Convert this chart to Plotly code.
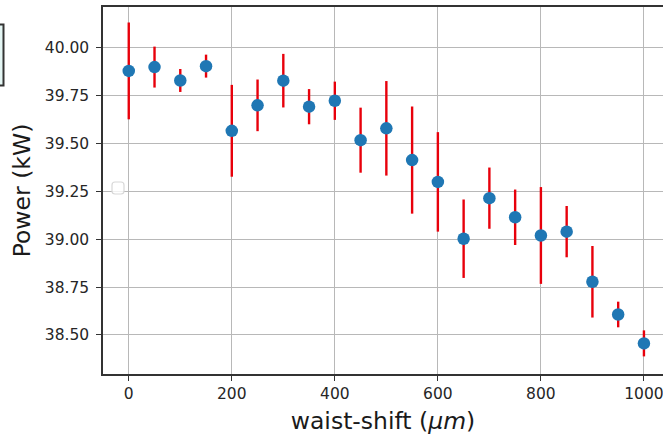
import plotly.graph_objects as go

waist_shift = [0, 50, 100, 150, 200, 250, 300, 350, 400, 450, 500, 550, 600, 650, 700, 750, 800, 850, 900, 950, 1000]
power_kw = [39.88, 39.90, 39.83, 39.905, 39.567, 39.70, 39.829, 39.693, 39.724, 39.518, 39.58, 39.414, 39.30, 39.003,
            39.215, 39.115, 39.02, 39.04, 38.778, 38.607, 38.456]
power_err = [0.253, 0.107, 0.06, 0.06, 0.24, 0.135, 0.14, 0.092, 0.10, 0.17, 0.247, 0.28, 0.26, 0.205,
             0.16, 0.145, 0.253, 0.134, 0.187, 0.067, 0.068]
x_ticks = [0, 200, 400, 600, 800, 1000]
y_ticks = [38.50, 38.75, 39.00, 39.25, 39.50, 39.75, 40.00]

W, H = 663, 435
ML, MT, MB, MR = 103, 7, 61, 0
PW, PH = W - ML - MR, H - MT - MB


def px_x(px):
    return (px - ML) / PW


def px_y(py):
    return 1 - (py - MT) / PH


fig = go.Figure()
fig.add_trace(go.Scatter(
    x=waist_shift, y=power_kw, mode="markers",
    marker=dict(color="#1f77b4", size=12.5),
    error_y=dict(type="data", array=power_err, visible=True, color="#e8000b", thickness=2.4, width=0),
    showlegend=False,
))

shapes = []
# partially visible legend box at far left (outside axes)
shapes.append(dict(type="rect", xref="paper", yref="paper",
                   x0=px_x(-10), x1=px_x(3.5), y0=px_y(85.5), y1=px_y(24.5),
                   line=dict(color="#333333", width=2), fillcolor="#e4f6f4", layer="above"))
# faint empty legend frame inside axes
x0, x1, y0, y1, r = 112, 124, 182, 194, 3
path = (f"M {px_x(x0 + r)} {px_y(y0)} L {px_x(x1 - r)} {px_y(y0)} "
        f"Q {px_x(x1)} {px_y(y0)} {px_x(x1)} {px_y(y0 + r)} L {px_x(x1)} {px_y(y1 - r)} "
        f"Q {px_x(x1)} {px_y(y1)} {px_x(x1 - r)} {px_y(y1)} L {px_x(x0 + r)} {px_y(y1)} "
        f"Q {px_x(x0)} {px_y(y1)} {px_x(x0)} {px_y(y1 - r)} L {px_x(x0)} {px_y(y0 + r)} "
        f"Q {px_x(x0)} {px_y(y0)} {px_x(x0 + r)} {px_y(y0)} Z")
shapes.append(dict(type="path", xref="paper", yref="paper", path=path,
                   line=dict(color="#d8d8d8", width=1.2), fillcolor="rgba(255,255,255,0.8)", layer="above"))

fig.update_layout(
    width=W, height=H,
    margin=dict(l=ML, r=MR, t=MT, b=MB),
    paper_bgcolor="white", plot_bgcolor="white",
    font=dict(family="DejaVu Sans", color="#262626"),
    shapes=shapes,
    xaxis=dict(
        range=[-50, 1037], tickvals=x_ticks, ticktext=[str(v) for v in x_ticks],
        showgrid=True, gridcolor="#b8b8b8", gridwidth=1,
        showline=True, linecolor="#333333", linewidth=1.5, mirror=True,
        ticks="outside", ticklen=5, tickcolor="#333333", tickwidth=1.2,
        tickfont=dict(size=15.5, color="#262626"), zeroline=False,
        ticklabeloverflow="allow",
        title=dict(text="waist-shift (<i>μm</i>)", font=dict(size=23.5, color="#1a1a1a"), standoff=11),
    ),
    yaxis=dict(
        range=[38.296, 40.214], tickvals=y_ticks, ticktext=[f"{v:.2f}" for v in y_ticks],
        showgrid=True, gridcolor="#b8b8b8", gridwidth=1,
        showline=True, linecolor="#333333", linewidth=1.5, mirror=False,
        ticks="outside", ticklen=5, tickcolor="#333333", tickwidth=1.2,
        tickfont=dict(size=15.5, color="#262626"), zeroline=False,
        ticklabelstandoff=4,
        title=dict(text="Power (kW)", font=dict(size=23.5, color="#1a1a1a"), standoff=8),
    ),
)

fig.write_html("out.html")
